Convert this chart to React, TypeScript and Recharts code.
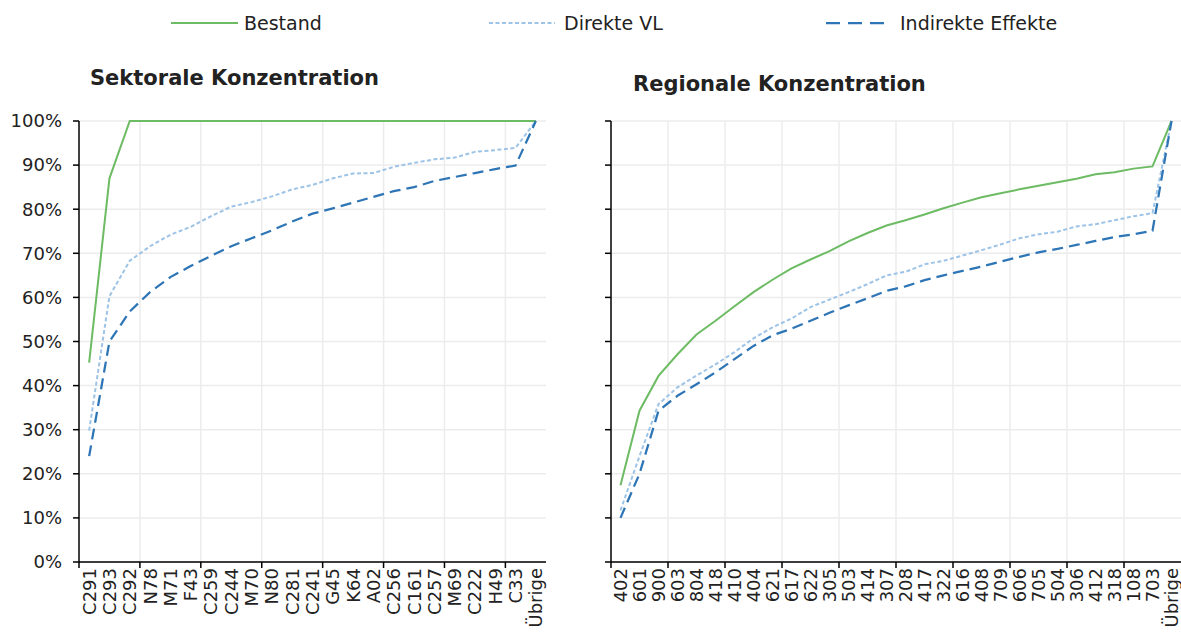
import { LineChart, Line, XAxis, YAxis, CartesianGrid } from "recharts";

// Sektorale Konzentration
const sektorCats = [
  "C291", "C293", "C292", "N78", "M71", "F43", "C259", "C244", "M70", "N80", "C281", "C241",
  "G45", "K64", "A02", "C256", "C161", "C257", "M69", "C222", "H49", "C33", "Übrige",
];
const sektorBestand = [
  45.2, 87.0, 100, 100, 100, 100, 100, 100, 100, 100, 100, 100,
  100, 100, 100, 100, 100, 100, 100, 100, 100, 100, 100,
];
const sektorDirekt = [
  29.8, 60.3, 68.3, 71.6, 74.2, 76.0, 78.4, 80.6, 81.6, 82.9, 84.5, 85.5,
  87.0, 88.1, 88.2, 89.6, 90.5, 91.3, 91.7, 93.0, 93.4, 93.9, 100,
];
const sektorIndirekt = [
  24.0, 50.0, 56.8, 61.2, 64.6, 67.1, 69.4, 71.6, 73.4, 75.2, 77.2, 79.0,
  80.2, 81.5, 82.8, 84.1, 85.0, 86.4, 87.3, 88.2, 89.1, 89.9, 100,
];

// Regionale Konzentration
const regionCats = [
  "402", "601", "900", "603", "804", "418", "410", "404", "621", "617", "622", "305", "503", "414", "307",
  "208", "417", "322", "616", "408", "709", "606", "705", "504", "306", "412", "318", "108", "703", "Übrige",
];
const regionBestand = [
  17.4, 34.3, 42.2, 47.1, 51.6, 54.7, 58.0, 61.2, 64.0, 66.6, 68.6, 70.5, 72.7, 74.6, 76.3,
  77.5, 78.8, 80.2, 81.5, 82.7, 83.6, 84.5, 85.3, 86.1, 86.9, 87.9, 88.4, 89.2, 89.7, 100,
];
const regionDirekt = [
  11.7, 24.0, 35.8, 39.6, 42.3, 44.8, 47.6, 50.7, 53.2, 55.2, 57.8, 59.5, 61.2, 63.0, 65.0,
  65.8, 67.5, 68.3, 69.5, 70.7, 72.0, 73.4, 74.3, 74.9, 76.1, 76.6, 77.5, 78.4, 79.1, 100,
];
const regionIndirekt = [
  10.0, 20.0, 34.3, 37.7, 40.3, 43.0, 46.0, 49.0, 51.4, 52.9, 54.7, 56.5, 58.2, 59.8, 61.5,
  62.5, 63.9, 65.0, 66.0, 67.0, 68.1, 69.2, 70.2, 71.0, 71.9, 72.8, 73.7, 74.3, 75.1, 100,
];

const yTicks = [0, 10, 20, 30, 40, 50, 60, 70, 80, 90, 100];

const FONT = "'DejaVu Sans', sans-serif";
const TEXT = "#222";
const GREEN = "#6dbb63";
const LIGHT = "#9dc3e6";
const DARK = "#2e75b6";
const GRID = "#ececec";

const buildRows = (cats: string[], a: number[], b: number[], c: number[]) =>
  cats.map((name, i) => ({ name, bestand: a[i], direkt: b[i], indirekt: c[i] }));

const sektorData = buildRows(sektorCats, sektorBestand, sektorDirekt, sektorIndirekt);
const regionData = buildRows(regionCats, regionBestand, regionDirekt, regionIndirekt);

interface TickProps {
  x?: number;
  y?: number;
  index?: number;
  payload?: { value: string };
  half: number;
}

// category label rotated, plus a tick mark on the category boundary every 3rd category
function CategoryTick({ x = 0, y = 0, index = 0, payload, half }: TickProps) {
  return (
    <g>
      {index % 3 === 0 && (
        <line x1={x - half} x2={x - half} y1={y} y2={y + 6} stroke="#000" strokeWidth={1.5} />
      )}
      <text
        transform={`translate(${x},${y + 6}) rotate(-90)`}
        textAnchor="end"
        dominantBaseline="central"
        fontSize={18}
        fontFamily={FONT}
        fill={TEXT}
      >
        {payload?.value}
      </text>
    </g>
  );
}

interface PanelProps {
  data: ReturnType<typeof buildRows>;
  width: number;
  yAxisWidth: number;
  rightMargin: number;
  showYLabels: boolean;
}

function Panel({ data, width, yAxisWidth, rightMargin, showYLabels }: PanelProps) {
  const plotW = width - yAxisWidth - rightMargin;
  const step = plotW / data.length;
  const half = step / 2;
  const vLines: number[] = [];
  for (let i = 3; i < data.length; i += 3) vLines.push(yAxisWidth + i * step);

  return (
    <LineChart
      width={width}
      height={637}
      data={data}
      margin={{ top: 121, right: rightMargin, bottom: 0, left: 0 }}
    >
      <CartesianGrid stroke={GRID} strokeWidth={1.5} verticalPoints={vLines} />
      <XAxis
        dataKey="name"
        interval={0}
        height={75}
        padding={{ left: half, right: half }}
        tickSize={0}
        tickMargin={0}
        tickLine={false}
        axisLine={{ stroke: "#000", strokeWidth: 1.5 }}
        tick={(p: any) => <CategoryTick {...p} half={half} />}
      />
      <YAxis
        domain={[0, 100]}
        ticks={yTicks}
        width={yAxisWidth}
        tickSize={6}
        tickMargin={11}
        axisLine={{ stroke: "#000", strokeWidth: 1.5 }}
        tickLine={{ stroke: "#000", strokeWidth: 1.5 }}
        tickFormatter={(v: number) => (showYLabels ? `${v}%` : "")}
        tick={{ fontSize: 18, fill: TEXT, fontFamily: FONT }}
      />
      <Line type="linear" dataKey="bestand" stroke={GREEN} strokeWidth={2} dot={false} isAnimationActive={false} />
      <Line
        type="linear"
        dataKey="direkt"
        stroke={LIGHT}
        strokeWidth={2}
        strokeDasharray="4 2.5"
        dot={false}
        isAnimationActive={false}
      />
      <Line
        type="linear"
        dataKey="indirekt"
        stroke={DARK}
        strokeWidth={2.25}
        strokeDasharray="11 6"
        dot={false}
        isAnimationActive={false}
      />
    </LineChart>
  );
}

const legendItems = [
  { label: "Bestand", color: GREEN, dash: undefined, lineX: 171, lineW: 67, textX: 244, width: 2 },
  { label: "Direkte VL", color: LIGHT, dash: "4 2.5", lineX: 489, lineW: 66, textX: 564, width: 2 },
  { label: "Indirekte Effekte", color: DARK, dash: "14 8", lineX: 826, lineW: 58, textX: 900, width: 2.25 },
];

export default function App() {
  return (
    <div
      style={{
        position: "absolute",
        left: 0,
        top: 0,
        width: 1181,
        height: 637,
        background: "#fff",
        fontFamily: FONT,
        color: TEXT,
        overflow: "hidden",
      }}
    >
      {legendItems.map((it) => (
        <div key={it.label}>
          <svg style={{ position: "absolute", left: it.lineX, top: 18 }} width={it.lineW} height={10}>
            <line x1={0} x2={it.lineW} y1={5} y2={5} stroke={it.color} strokeWidth={it.width} strokeDasharray={it.dash} />
          </svg>
          <div style={{ position: "absolute", left: it.textX, top: 11, fontSize: 19, lineHeight: "24px", whiteSpace: "nowrap" }}>
            {it.label}
          </div>
        </div>
      ))}

      <div style={{ position: "absolute", left: 90, top: 65, fontSize: 21, fontWeight: "bold", lineHeight: "26px", whiteSpace: "nowrap" }}>
        Sektorale Konzentration
      </div>
      <div style={{ position: "absolute", left: 633, top: 71, fontSize: 21, fontWeight: "bold", lineHeight: "26px", whiteSpace: "nowrap" }}>
        Regionale Konzentration
      </div>

      <div style={{ position: "absolute", left: 0, top: 0 }}>
        <Panel data={sektorData} width={560} yAxisWidth={79} rightMargin={14} showYLabels />
      </div>
      <div style={{ position: "absolute", left: 600, top: 0 }}>
        <Panel data={regionData} width={581} yAxisWidth={11} rightMargin={0} showYLabels={false} />
      </div>
    </div>
  );
}
